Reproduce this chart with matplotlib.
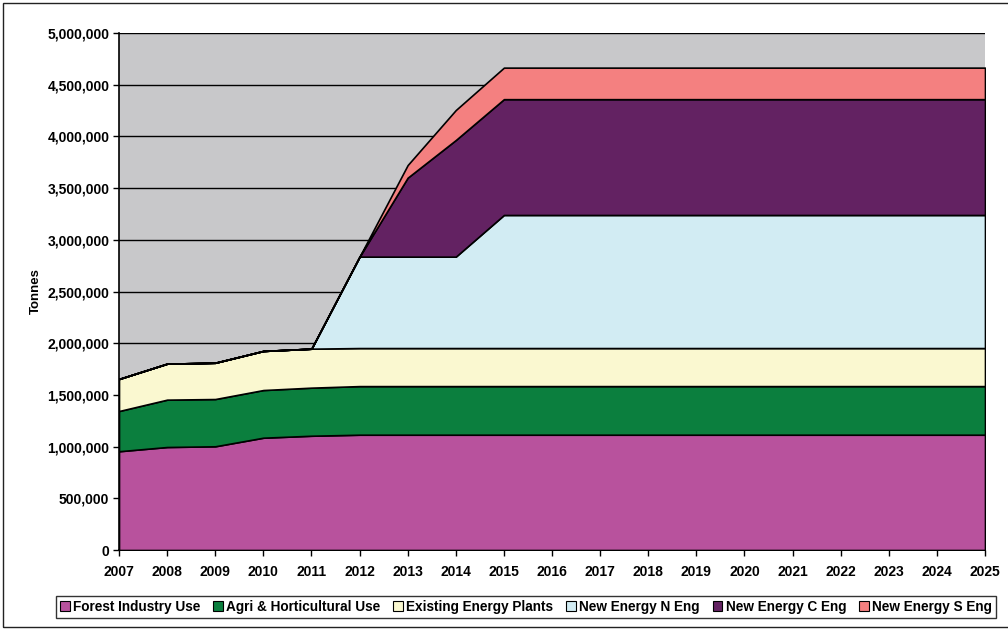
import matplotlib
matplotlib.use('Agg')
import matplotlib.pyplot as plt
from matplotlib.patches import Rectangle
from matplotlib.ticker import FuncFormatter, MultipleLocator

plt.rcParams['font.family'] = ['Liberation Sans', 'DejaVu Sans']

years = list(range(2007, 2026))

# tonnes
forest = [955000, 996000, 1003000, 1086000, 1105000] + [1115000] * 14
agri = [389000, 458000, 457000, 461000, 465000] + [470000] * 14
existing = [310000, 348000, 351000, 378000, 377000] + [368000] * 14
new_n = [0, 0, 0, 0, 0, 884000, 884000, 884000] + [1287000] * 11
new_c = [0, 0, 0, 0, 0, 0, 764000, 1128000] + [1120000] * 11
new_s = [0, 0, 0, 0, 0, 0, 122000, 290000] + [305000] * 11

labels = ['Forest Industry Use', 'Agri & Horticultural Use', 'Existing Energy Plants',
          'New Energy N Eng', 'New Energy C Eng', 'New Energy S Eng']
colors = ['#B8529D', '#0B7F3E', '#FAF8D0', '#D2ECF3', '#632262', '#F48080']

fig = plt.figure(figsize=(10.08, 6.3), dpi=100)
ax = fig.add_axes([119 / 1008, 1 - 550 / 630, (985 - 119) / 1008, (550 - 33) / 630])
ax.set_facecolor('#C8C8CA')

polys = ax.stackplot(years, forest, agri, existing, new_n, new_c, new_s,
                     colors=colors, labels=labels, edgecolor='black', linewidth=1.2, zorder=3)

ax.set_xlim(2007, 2025)
ax.set_ylim(0, 5000000)
ax.set_xticks(years)
ax.yaxis.set_major_locator(MultipleLocator(500000))
ax.yaxis.set_major_formatter(FuncFormatter(lambda v, p: f'{int(v):,}'))
ax.grid(axis='y', color='black', linewidth=1)
ax.set_axisbelow(True)

for s in ['top', 'right']:
    ax.spines[s].set_visible(False)
ax.spines['left'].set_linewidth(1.2)
ax.spines['bottom'].set_linewidth(1.2)
ax.tick_params(direction='out', length=4, width=1, labelsize=10, pad=3)
for t in ax.get_xticklabels() + ax.get_yticklabels():
    t.set_fontweight('bold')
ax.tick_params(axis='x', pad=7)

ax.set_ylabel('Tonnes', fontsize=9.5, fontweight='bold', labelpad=4)

leg = fig.legend(loc='center', bbox_to_anchor=(526 / 1008, 1 - 607 / 630), ncol=6,
                 prop={'weight': 'bold', 'size': 9.8}, frameon=True, fancybox=False,
                 handlelength=0.7, handleheight=0.7, handletextpad=0.25, columnspacing=0.95,
                 borderpad=0.3, edgecolor='black')
leg.get_frame().set_linewidth(1)
for h in leg.legend_handles:
    h.set_edgecolor('black')
    h.set_linewidth(0.8)

fig.patches.append(Rectangle((3 / 1008, 3 / 630), 1.1, 624 / 630, transform=fig.transFigure,
                             fill=False, edgecolor='#222222', linewidth=1))

fig.savefig('out.png', dpi=100)
